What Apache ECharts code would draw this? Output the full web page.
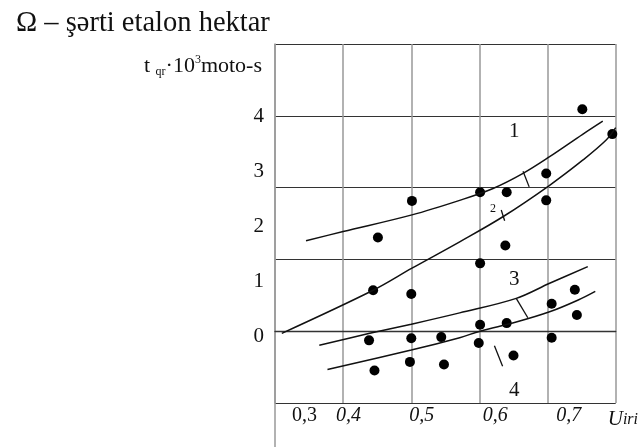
<!DOCTYPE html>
<html>
<head>
<meta charset="utf-8">
<script src="https://cdn.jsdelivr.net/npm/echarts@6/dist/echarts.min.js"></script>
<style>html,body{margin:0;padding:0;background:#fff;}#c{width:641px;height:447px;}</style>
</head>
<body>
<div id="c"></div>
<script>
// ---- data (x: share, y: t_qr·10^3 moto-s) ----
const dotX = [0.751,0.795,0.698,0.601,0.640,0.698,0.638,0.601,0.740,0.706,0.743,0.601,0.640,0.501,0.451,0.444,0.500,0.438,0.500,0.544,0.446,0.498,0.548,0.599,0.650,0.706];
const dotY = [4.12,3.66,2.93,2.58,2.58,2.43,1.59,1.26,0.77,0.51,0.30,0.12,0.15,2.42,1.74,0.76,0.69,-0.17,-0.13,-0.11,-0.73,-0.57,-0.62,-0.22,-0.45,-0.12];

const curve1X = [0.3455,0.400,0.501,0.571,0.620,0.664,0.703,0.752,0.781];
const curve1Y = [1.68,1.85,2.16,2.43,2.65,2.93,3.24,3.66,3.90];
const curve2X = [0.310,0.444,0.501,0.571,0.635,0.703,0.752,0.786,0.800];
const curve2Y = [-0.04,0.76,1.17,1.66,2.13,2.71,3.18,3.55,3.78];
const curve3X = [0.365,0.439,0.500,0.571,0.654,0.703,0.759];
const curve3Y = [-0.26,-0.04,0.13,0.34,0.61,0.89,1.20];
const curve4X = [0.377,0.500,0.571,0.601,0.654,0.703,0.745,0.770];
const curve4Y = [-0.71,-0.35,-0.12,0.0,0.17,0.36,0.58,0.74];

const tickMarksX = [[0.664,0.673],[0.632,0.637],[0.654,0.671],[0.622,0.634]];
const tickMarksY = [[2.97,2.68],[2.25,2.05],[0.61,0.25],[-0.27,-0.65]];

const curveLabelNames = ['1','2','3','4'];
const curveLabelX = [0.651,0.620,0.651,0.651];
const curveLabelY = [3.70,2.28,0.96,-1.10];
const curveLabelSize = [21,12,21,21];

const xTickValues = [0.3,0.4,0.5,0.6,0.7];
const xTickLabels = ['0,3','0,4','0,5','0,6','0,7'];
const yTickValues = [0,1,2,3,4];
const yTickLabels = ['0','1','2','3','4'];

const titleText = 'Ω – şərti etalon hektar';
const xName = 'U';
const xNameSub = 'iri';

// ---- build ----
const zip = (xs, ys) => xs.map((x, i) => [x, ys[i]]);
const serif = 'Liberation Serif';
const ink = '#111';

const curveSeries = [[curve1X,curve1Y],[curve2X,curve2Y],[curve3X,curve3Y],[curve4X,curve4Y]].map(c => ({
  type: 'line', xAxisIndex: 0, yAxisIndex: 0, smooth: 0.35, symbol: 'none',
  lineStyle: { color: ink, width: 1.5 }, data: zip(c[0], c[1]), silent: true
}));
const tickSeries = tickMarksX.map((xs, i) => ({
  type: 'line', xAxisIndex: 0, yAxisIndex: 0, symbol: 'none',
  lineStyle: { color: ink, width: 1.3 }, data: zip(xs, tickMarksY[i]), silent: true
}));

const chart = echarts.init(document.getElementById('c'), null, { renderer: 'canvas' });
chart.setOption({
  animation: false,
  backgroundColor: '#fff',
  title: [
    { text: titleText, left: 11, top: 4,
      textStyle: { fontFamily: serif, fontSize: 28.5, fontWeight: 'normal', color: ink } },
    { text: '{m|t }{s|qr}{m|·10}{p|3}{m|moto-s}', right: 374, top: 49,
      textStyle: { fontWeight: 'normal', rich: {
        m: { fontFamily: serif, fontSize: 22, fontWeight: 'normal', color: ink, lineHeight: 24 },
        s: { fontFamily: serif, fontSize: 12, fontWeight: 'normal', color: ink, verticalAlign: 'bottom', lineHeight: 22 },
        p: { fontFamily: serif, fontSize: 12, fontWeight: 'normal', color: ink, verticalAlign: 'top', lineHeight: 24 }
      } } }
  ],
  grid: [
    { left: 275, right: 25, top: 44, bottom: 44 },
    { left: 275, right: 25, top: 61.7, bottom: 55.3 }
  ],
  xAxis: [
    { type: 'value', gridIndex: 0, position: 'bottom', min: 0.3, max: 0.8, interval: 0.1,
      axisLine: { show: true, lineStyle: { color: '#333', width: 1.3 } },
      axisTick: { show: false }, axisLabel: { show: false },
      splitLine: { show: true, showMinLine: true, showMaxLine: true, lineStyle: { color: '#999', width: 1.5 } } },
    { type: 'value', gridIndex: 0, position: 'bottom', min: 0.3, max: 0.764, interval: 0.1,
      axisLine: { show: false }, axisTick: { show: false }, splitLine: { show: false },
      name: '{u|' + xName + '}{s|' + xNameSub + '}', nameLocation: 'end', nameGap: -8,
      nameTextStyle: { verticalAlign: 'top', padding: [6,0,0,0], rich: {
        u: { fontFamily: serif, fontSize: 21, fontStyle: 'italic', color: ink },
        s: { fontFamily: serif, fontSize: 16, fontStyle: 'italic', color: ink }
      } },
      axisLabel: {
        show: true, margin: 3, fontFamily: serif, fontSize: 20, fontStyle: 'italic', color: ink,
        showMinLabel: true, showMaxLabel: true, hideOverlap: false,
        formatter: v => {
          const i = xTickValues.findIndex(t => Math.abs(t - v) < 1e-6);
          if (i < 0) return '';
          return i === 0 ? '{n|' + xTickLabels[i] + '}' : xTickLabels[i];
        },
        rich: { n: { fontFamily: serif, fontSize: 20, fontStyle: 'normal', color: ink, padding: [0,0,0,59] } }
      } },
    { type: 'value', gridIndex: 1, show: false, min: 0, max: 1 }
  ],
  yAxis: [
    { type: 'value', gridIndex: 0, position: 'left', min: -4/3, max: 16/3, interval: 4/3,
      axisLine: { show: true, lineStyle: { color: '#999', width: 1.5 } },
      axisTick: { show: false }, axisLabel: { show: false },
      splitLine: { show: true, showMinLine: true, showMaxLine: true, lineStyle: { color: '#333', width: 1 } } },
    { type: 'value', gridIndex: 1, position: 'left', min: -1, max: 5, interval: 1,
      axisLine: { show: false }, axisTick: { show: false }, splitLine: { show: false },
      axisLabel: { show: true, margin: 11, fontFamily: serif, fontSize: 21, color: ink,
        formatter: v => { const i = yTickValues.findIndex(t => Math.abs(t - v) < 1e-6); return i < 0 ? '' : yTickLabels[i]; } } }
  ],
  series: [
    ...curveSeries,
    ...tickSeries,
    { type: 'scatter', xAxisIndex: 0, yAxisIndex: 0, symbol: 'circle', symbolSize: 10,
      itemStyle: { color: '#000', opacity: 1 }, data: zip(dotX, dotY), silent: true },
    { type: 'scatter', xAxisIndex: 0, yAxisIndex: 0, symbol: 'circle', symbolSize: 0,
      itemStyle: { color: ink, opacity: 1 }, silent: true,
      data: curveLabelNames.map((n, i) => ({ name: n, value: [curveLabelX[i], curveLabelY[i]],
        label: { show: true, position: 'inside', formatter: '{b}', fontFamily: serif,
                 fontSize: curveLabelSize[i], color: ink, opacity: 1, textBorderWidth: 0 } })) }
  ]
});
// extend the left axis line below the plot frame (as in the reference)
const p = chart.convertToPixel({ xAxisIndex: 0, yAxisIndex: 0 }, [0.3, -4/3]);
chart.setOption({ graphic: [{ type: 'line', silent: true,
  shape: { x1: p[0], y1: p[1], x2: p[0], y2: 447 }, style: { stroke: '#999', lineWidth: 1.5 } }] });
</script>
</body>
</html>
